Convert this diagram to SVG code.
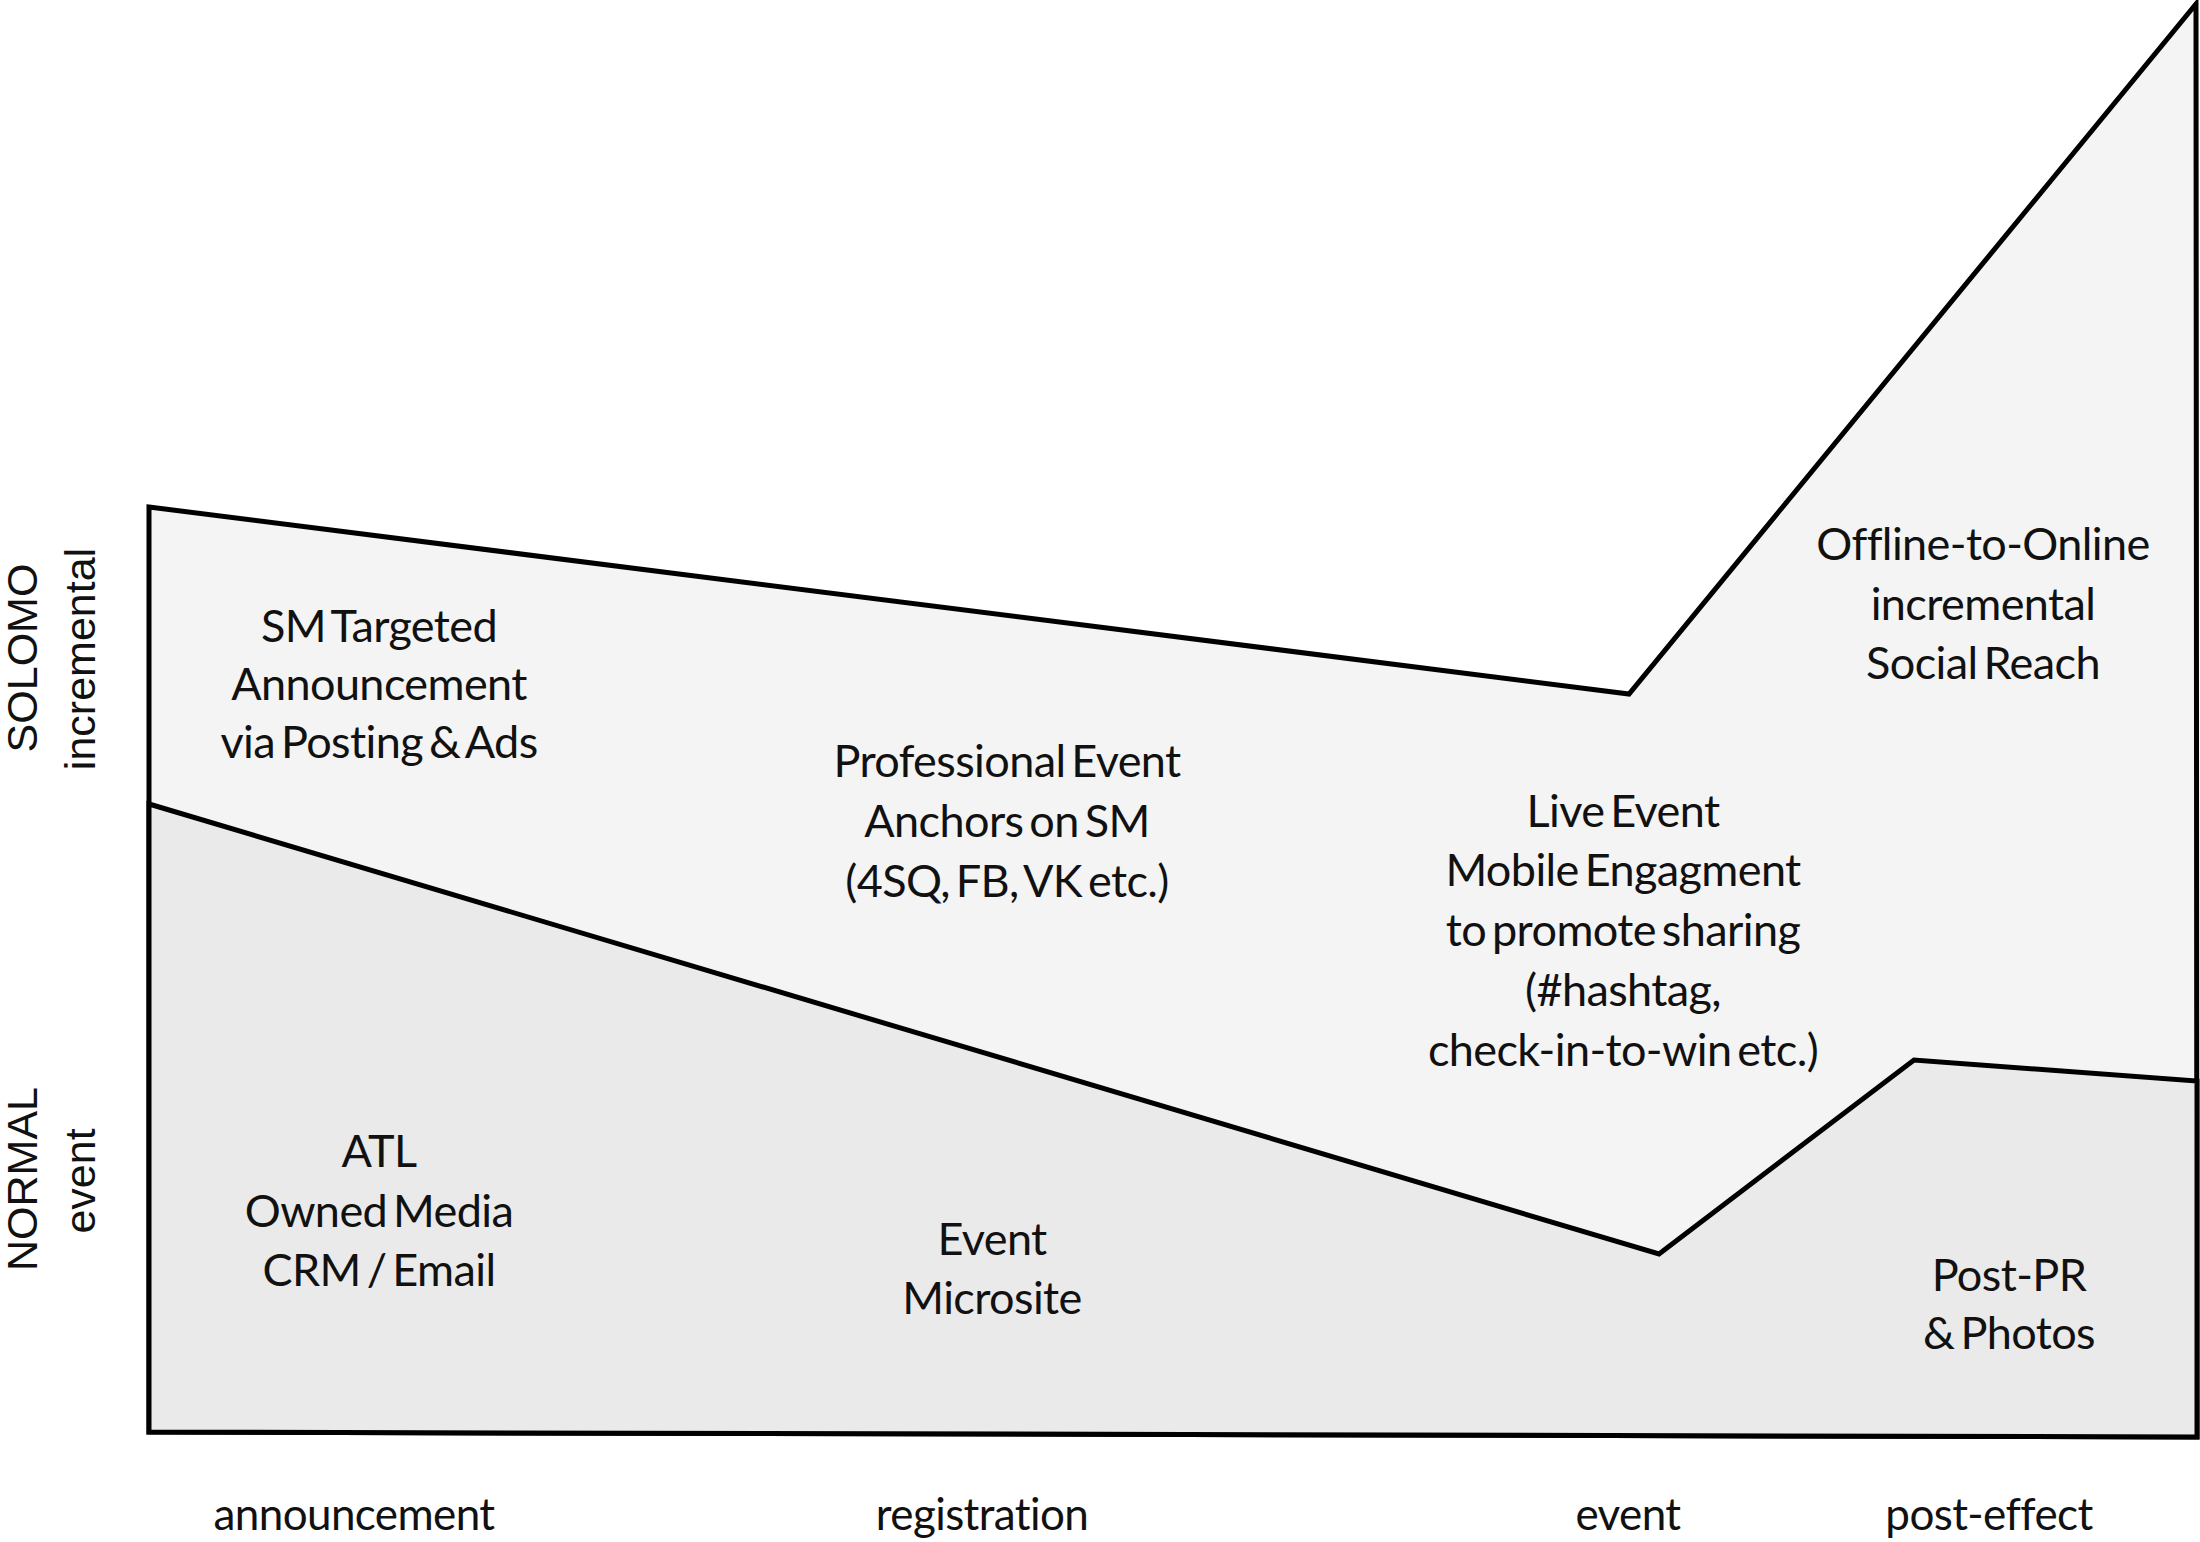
<svg xmlns="http://www.w3.org/2000/svg" width="2200" height="1542" viewBox="0 0 2200 1542">
<style>
.band{stroke:#000;stroke-width:5;stroke-linejoin:miter}
.upper{fill:#f4f4f4}
.lower{fill:#eaeaea}
.lbl{font-family:Lato,"Liberation Sans",sans-serif;font-size:45px;fill:#111;text-anchor:middle;letter-spacing:-0.6px;word-spacing:-5px}
.axis{font-family:Lato,"Liberation Sans",sans-serif;font-size:44px;fill:#111;text-anchor:middle;letter-spacing:-0.6px}
.side{font-family:"Liberation Sans",Arial,sans-serif;font-size:43px;fill:#111;text-anchor:middle}
</style>
<rect width="2200" height="1542" fill="#fff"/>
<g id="bands">
<polygon class="band upper" points="149,507 1629,694 2196,4 2197,1437 149,1432"/>
<polygon class="band lower" points="149,804 1659,1254 1914,1060 2197,1081 2197,1437 149,1432"/>
</g>
<g id="side-solomo">
<text class="side" transform="translate(37,658) rotate(-90)">SOLOMO</text>
<text class="side" transform="translate(95,659) rotate(-90)">incremental</text>
</g>
<g id="side-normal">
<text class="side" transform="translate(37,1179) rotate(-90)">NORMAL</text>
<text class="side" transform="translate(95,1181) rotate(-90)">event</text>
</g>
<g id="sm-targeted">
<text class="lbl" x="379" y="642">SM Targeted</text>
<text class="lbl" x="379" y="700">Announcement</text>
<text class="lbl" x="379" y="758">via Posting &amp; Ads</text>
</g>
<g id="professional">
<text class="lbl" x="1007" y="777">Professional Event</text>
<text class="lbl" x="1007" y="837">Anchors on SM</text>
<text class="lbl" x="1007" y="897">(4SQ, FB, VK etc.)</text>
</g>
<g id="live-event">
<text class="lbl" x="1623" y="827">Live Event</text>
<text class="lbl" x="1623" y="886">Mobile Engagment</text>
<text class="lbl" x="1623" y="946">to promote sharing</text>
<text class="lbl" x="1623" y="1006">(#hashtag,</text>
<text class="lbl" x="1623" y="1066">check-in-to-win etc.)</text>
</g>
<g id="offline-online">
<text class="lbl" x="1983" y="560">Offline-to-Online</text>
<text class="lbl" x="1983" y="620">incremental</text>
<text class="lbl" x="1983" y="679">Social Reach</text>
</g>
<g id="atl">
<text class="lbl" x="379" y="1167">ATL</text>
<text class="lbl" x="379" y="1227">Owned Media</text>
<text class="lbl" x="379" y="1286">CRM / Email</text>
</g>
<g id="event-microsite">
<text class="lbl" x="992" y="1255">Event</text>
<text class="lbl" x="992" y="1314">Microsite</text>
</g>
<g id="post-pr">
<text class="lbl" x="2009" y="1291">Post-PR</text>
<text class="lbl" x="2009" y="1349">&amp; Photos</text>
</g>
<g id="axis">
<text class="axis" x="354" y="1530">announcement</text>
<text class="axis" x="982" y="1530">registration</text>
<text class="axis" x="1628" y="1530">event</text>
<text class="axis" x="1989" y="1530">post-effect</text>
</g>
</svg>
